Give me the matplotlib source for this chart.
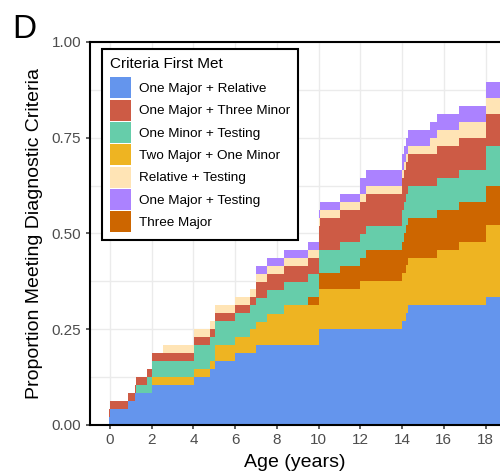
import matplotlib.pyplot as plt
from matplotlib.patches import Patch
from matplotlib.ticker import MultipleLocator, FormatStrFormatter

plt.rcParams['font.family'] = ['Liberation Sans', 'DejaVu Sans']

# step change points (age in years)
age = [-0.06, 0.02, 0.87, 1.19, 1.27, 1.78, 2.02, 2.53, 4.01, 4.78, 5.02, 6.0, 6.69,
       7.01, 7.52, 8.32, 9.51, 10.0, 10.08, 11.03, 12.0, 12.25, 13.98, 14.1, 14.19,
       14.3, 15.33, 15.65, 16.74, 18.0, 19.0]

# cumulative proportion per criteria group (stack order, bottom to top)
one_major_relative = [0.021, 0.042, 0.062, 0.083, 0.083, 0.083, 0.104, 0.104, 0.125, 0.146,
                      0.167, 0.188, 0.188, 0.208, 0.208, 0.208, 0.208, 0.25, 0.25, 0.25,
                      0.25, 0.25, 0.271, 0.271, 0.292, 0.312, 0.312, 0.312, 0.312, 0.333, 0.333]
two_major_one_minor = [0, 0, 0, 0, 0, 0, 0.021, 0.021, 0.021, 0.021, 0.042, 0.042, 0.062,
                       0.062, 0.083, 0.104, 0.104, 0.104, 0.104, 0.104, 0.125, 0.125, 0.125,
                       0.125, 0.125, 0.125, 0.125, 0.146, 0.167, 0.188, 0.188]
three_major = [0, 0, 0, 0, 0, 0, 0, 0, 0, 0, 0, 0, 0, 0, 0, 0, 0.021, 0.042, 0.042, 0.062,
               0.062, 0.083, 0.083, 0.104, 0.104, 0.104, 0.104, 0.104, 0.104, 0.104, 0.104]
one_minor_testing = [0, 0, 0, 0, 0.021, 0.042, 0.042, 0.042, 0.062, 0.062, 0.062, 0.062,
                     0.062, 0.062, 0.062, 0.062, 0.062, 0.062, 0.062, 0.062, 0.062, 0.062,
                     0.083, 0.083, 0.083, 0.083, 0.083, 0.083, 0.083, 0.104, 0.104]
one_major_three_minor = [0.021, 0.021, 0.021, 0.021, 0.021, 0.021, 0.021, 0.021, 0.021, 0.021,
                         0.021, 0.021, 0.021, 0.042, 0.042, 0.042, 0.042, 0.062, 0.083, 0.083,
                         0.083, 0.083, 0.083, 0.083, 0.083, 0.083, 0.083, 0.083, 0.083, 0.083, 0.083]
relative_testing = [0, 0, 0, 0, 0, 0, 0, 0.021, 0.021, 0.021, 0.021, 0.021, 0.021, 0.021,
                    0.021, 0.021, 0.021, 0.021, 0.021, 0.021, 0.021, 0.021, 0.021, 0.021,
                    0.021, 0.021, 0.042, 0.042, 0.042, 0.042, 0.042]
one_major_testing = [0, 0, 0, 0, 0, 0, 0, 0, 0, 0, 0, 0, 0, 0.021, 0.021, 0.021, 0.021,
                     0.021, 0.021, 0.021, 0.042, 0.042, 0.042, 0.042, 0.042, 0.042, 0.042,
                     0.042, 0.042, 0.042, 0.042]

colors = {
    'One Major + Relative': '#6495ED',
    'One Major + Three Minor': '#CD5B45',
    'One Minor + Testing': '#66CDAA',
    'Two Major + One Minor': '#EEB422',
    'Relative + Testing': '#FFE4B5',
    'One Major + Testing': '#AB82FF',
    'Three Major': '#CD6600',
}
stack_names = ['One Major + Relative', 'Two Major + One Minor', 'Three Major',
               'One Minor + Testing', 'One Major + Three Minor', 'Relative + Testing',
               'One Major + Testing']
stack_vals = [one_major_relative, two_major_one_minor, three_major, one_minor_testing,
              one_major_three_minor, relative_testing, one_major_testing]

fig = plt.figure(figsize=(5, 4.74), dpi=100)
ax = fig.add_axes([0.179, 0.1034, 0.821, 0.808])

ax.stackplot(age, *stack_vals, colors=[colors[n] for n in stack_names],
             step='post', linewidth=0, zorder=2)

ax.set_xlim(-0.98, 18.69)
ax.set_ylim(0, 1)
ax.set_xticks(range(0, 20, 2))
ax.yaxis.set_major_locator(MultipleLocator(0.25))
ax.yaxis.set_minor_locator(MultipleLocator(0.125))
ax.yaxis.set_major_formatter(FormatStrFormatter('%.2f'))
ax.grid(True, which='major', color='#EBEBEB', linewidth=1.0, zorder=0)
ax.grid(True, which='minor', axis='y', color='#EBEBEB', linewidth=1.0, zorder=0)
ax.set_axisbelow(True)
ax.tick_params(which='major', direction='out', length=3, width=1.1, color='#333333',
               labelsize=11, labelcolor='#4D4D4D', pad=3)
ax.tick_params(which='minor', length=0)

for s in ['left', 'bottom', 'top']:
    ax.spines[s].set_linewidth(1.5)
    ax.spines[s].set_color('black')
ax.spines['right'].set_visible(False)

ax.set_xlabel('Age (years)', fontsize=14, labelpad=5)
ax.set_ylabel('Proportion Meeting Diagnostic Criteria', fontsize=14, labelpad=6)

legend_order = ['One Major + Relative', 'One Major + Three Minor', 'One Minor + Testing',
                'Two Major + One Minor', 'Relative + Testing', 'One Major + Testing',
                'Three Major']
handles = [Patch(facecolor=colors[n], edgecolor='none', label=n) for n in legend_order]
leg = ax.legend(handles=handles, title='Criteria First Met', loc='upper left',
                bbox_to_anchor=(0.0297, 0.9817), borderaxespad=0, fontsize=9.7,
                title_fontsize=11, fancybox=False, edgecolor='black', framealpha=1,
                handlelength=1.56, handleheight=2.02, labelspacing=0.1,
                handletextpad=0.6, borderpad=0.6, alignment='left')
leg.get_frame().set_linewidth(1.5)
# a bit more room between the legend title and the keys
leg._legend_box.sep = 4.5

fig.text(12 / 500, 1 - 38 / 474, 'D', fontsize=24, va='baseline', ha='left')

fig.savefig('out.png', dpi=100)
